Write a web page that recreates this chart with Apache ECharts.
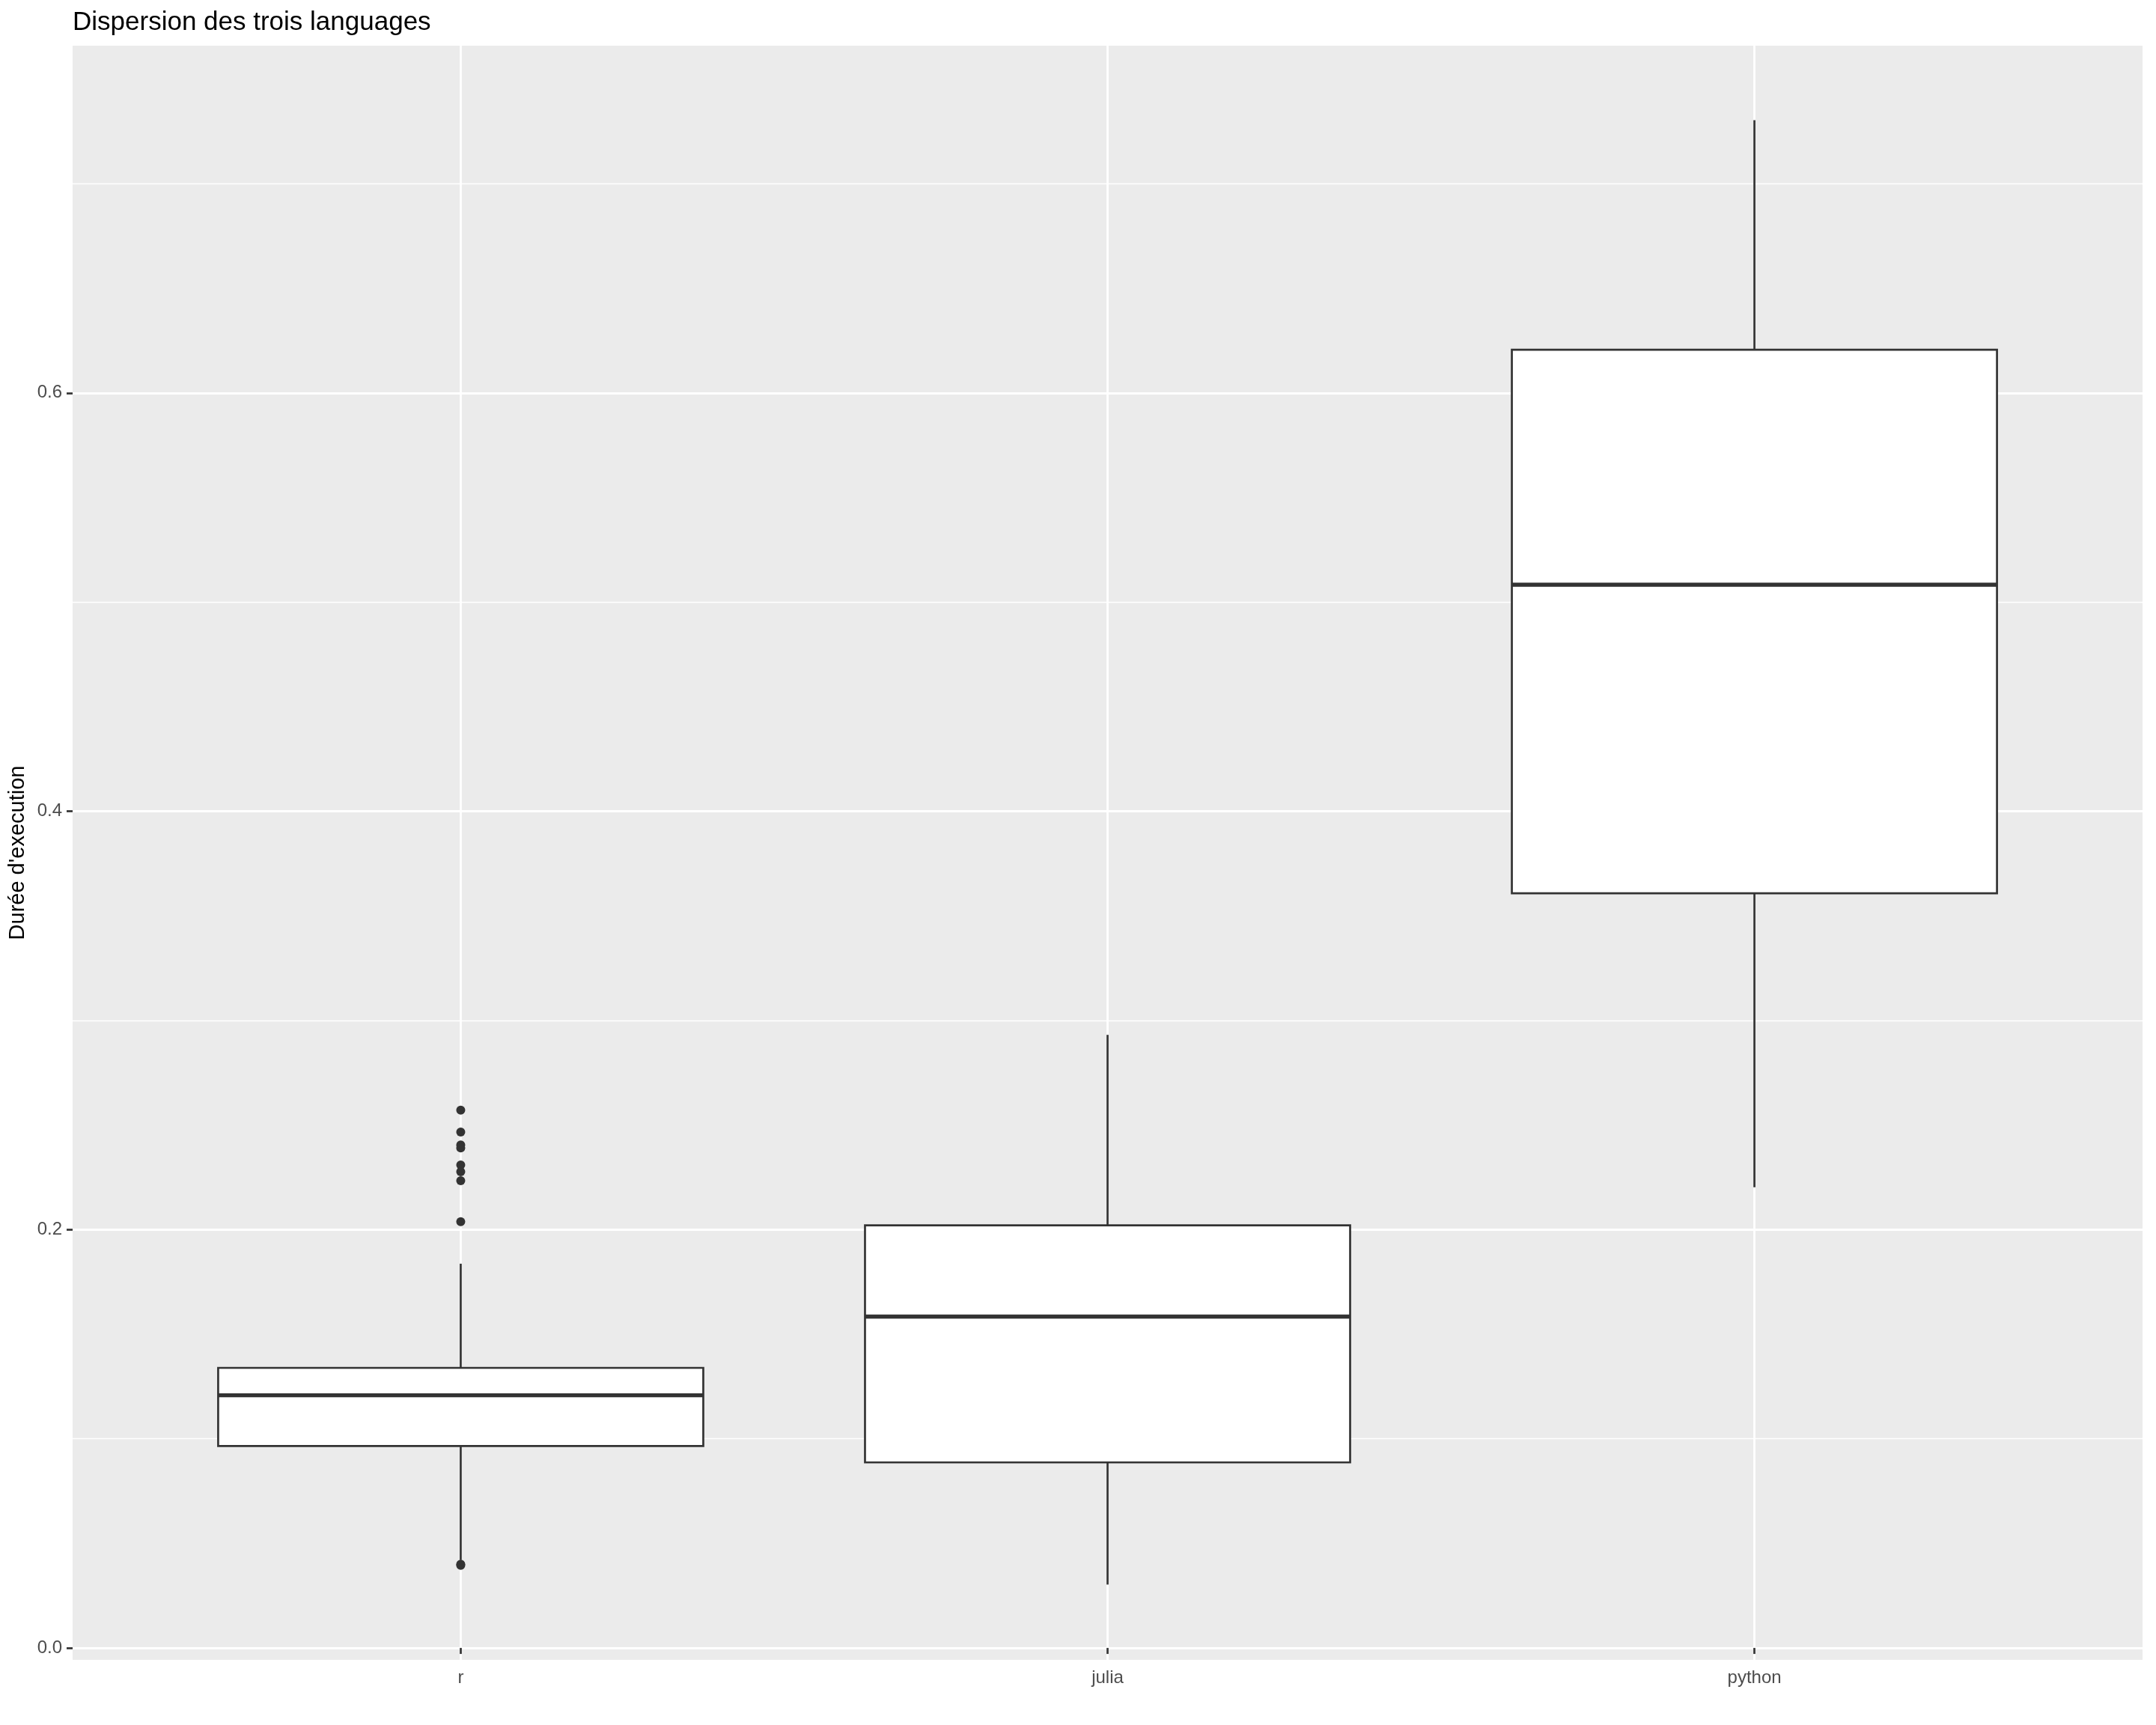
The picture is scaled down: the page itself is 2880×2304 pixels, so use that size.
<!DOCTYPE html>
<html>
<head>
<meta charset="utf-8">
<script src="https://cdn.jsdelivr.net/npm/echarts@6/dist/echarts.min.js"></script>
<style>html,body{margin:0;padding:0;background:#fff}#c{width:2880px;height:2304px}</style>
</head>
<body>
<div id="c"></div>
<script>
const categories = ['r', 'julia', 'python'];
const whiskerLow = [0.0420, 0.0303, 0.2202];
const quartile1 = [0.0965, 0.0887, 0.3608];
const medians = [0.1208, 0.1584, 0.5083];
const quartile3 = [0.1339, 0.2020, 0.6206];
const whiskerHigh = [0.1837, 0.2931, 0.7304];
const outlierCategory = ['r', 'r', 'r', 'r', 'r', 'r', 'r', 'r', 'r', 'r'];
const outlierValues = [0.2571, 0.2466, 0.2405, 0.2390, 0.2309, 0.2277, 0.2234, 0.2038, 0.0400, 0.0395];
const yMajorTicks = [0, 0.2, 0.4, 0.6];
const yMinorTicks = [0.1, 0.3, 0.5, 0.7];
const yLimits = [-0.0057, 0.766];
const xLimits = [0.4, 3.6];

const FONT = 'Liberation Sans, Arial, Helvetica, sans-serif';
const BOX_HALF = 0.375;
const catPos = categories.map((c, i) => i + 1);

const boxData = categories.map((c, i) => [catPos[i], whiskerLow[i], quartile1[i], medians[i], quartile3[i], whiskerHigh[i]]);
const outlierData = outlierValues.map((v, i) => [catPos[categories.indexOf(outlierCategory[i])], v]);

const chart = echarts.init(document.getElementById('c'), null, { renderer: 'canvas' });
chart.setOption({
  animation: false,
  backgroundColor: '#ffffff',
  title: {
    text: 'Dispersion des trois languages',
    left: 92,
    top: 8,
    textStyle: { fontFamily: FONT, fontSize: 35, fontWeight: 'normal', color: '#000000' }
  },
  grid: {
    left: 97, right: 18, top: 61, bottom: 87,
    show: true, backgroundColor: '#EBEBEB', borderWidth: 0
  },
  xAxis: {
    type: 'value',
    min: xLimits[0], max: xLimits[1],
    axisLine: { show: false },
    axisTick: { show: true, length: 8, customValues: catPos, lineStyle: { color: '#333333', width: 2.7 } },
    axisLabel: {
      customValues: catPos,
      formatter: v => categories[Math.round(v) - 1],
      fontFamily: FONT, fontSize: 24, color: '#4D4D4D', margin: 12
    },
    splitLine: { show: true, lineStyle: { color: '#FFFFFF', width: 2.8 } }
  },
  yAxis: [{
    type: 'value',
    min: yLimits[0], max: yLimits[1],
    name: "Durée d'execution",
    nameLocation: 'middle',
    nameGap: 57,
    nameTextStyle: { fontFamily: FONT, fontSize: 29, color: '#000000' },
    axisLine: { show: false },
    axisTick: { show: true, length: 8, customValues: yMajorTicks, lineStyle: { color: '#333333', width: 2.7 } },
    axisLabel: {
      customValues: yMajorTicks,
      formatter: v => v.toFixed(1),
      fontFamily: FONT, fontSize: 24, color: '#4D4D4D', margin: 14
    },
    splitLine: { show: true, lineStyle: { color: '#FFFFFF', width: 2.8 } }
  }, {
    type: 'value',
    min: yLimits[0], max: yLimits[1],
    position: 'left',
    axisLine: { show: false },
    axisTick: { show: false, customValues: yMinorTicks },
    axisLabel: { show: false, customValues: yMinorTicks },
    splitLine: { show: true, lineStyle: { color: '#FFFFFF', width: 1.4 } }
  }],
  series: [{
    type: 'custom',
    xAxisIndex: 0,
    yAxisIndex: 0,
    data: boxData,
    z: 3,
    renderItem: function (params, api) {
      const x = api.value(0);
      const lo = api.coord([x, api.value(1)]);
      const q1 = api.coord([x, api.value(2)]);
      const md = api.coord([x, api.value(3)]);
      const q3 = api.coord([x, api.value(4)]);
      const hi = api.coord([x, api.value(5)]);
      const left = api.coord([x - BOX_HALF, api.value(3)])[0];
      const right = api.coord([x + BOX_HALF, api.value(3)])[0];
      const line = { stroke: '#333333', lineWidth: 2.7 };
      return {
        type: 'group',
        children: [
          { type: 'line', shape: { x1: lo[0], y1: lo[1], x2: q1[0], y2: q1[1] }, style: line },
          { type: 'line', shape: { x1: q3[0], y1: q3[1], x2: hi[0], y2: hi[1] }, style: line },
          { type: 'rect', shape: { x: left, y: q3[1], width: right - left, height: q1[1] - q3[1] },
            style: { fill: '#FFFFFF', stroke: '#333333', lineWidth: 2.7 } },
          { type: 'line', shape: { x1: left, y1: md[1], x2: right, y2: md[1] },
            style: { stroke: '#333333', lineWidth: 5.4 } }
        ]
      };
    }
  }, {
    type: 'scatter',
    xAxisIndex: 0,
    yAxisIndex: 0,
    data: outlierData,
    symbol: 'circle',
    symbolSize: 12,
    z: 4,
    itemStyle: { color: '#333333', opacity: 1 }
  }]
});
</script>
</body>
</html>
